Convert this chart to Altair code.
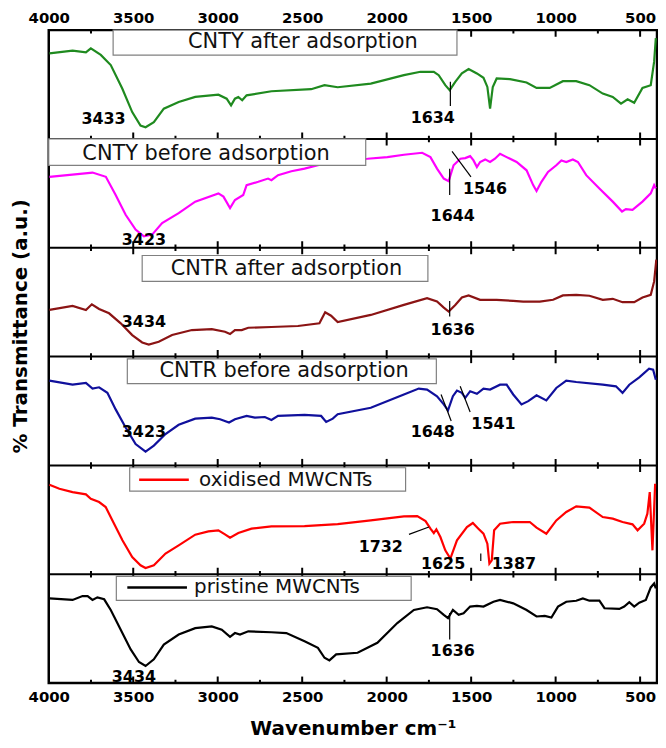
import altair as alt
import pandas as pd

# ---------------- data ----------------
series_names = ["CNTY after adsorption", "CNTY before adsorption", "CNTR after adsorption",
                "CNTR before adsorption", "oxidised MWCNTs", "pristine MWCNTs"]
series_colors = ["#1f8a1f", "#ff00ff", "#8b1414", "#10109c", "#ff0000", "#000000"]

wn_1 = [3996, 3859, 3780, 3751, 3692, 3633, 3565, 3506, 3457, 3427, 3378, 3319, 3231, 3133, 2996,
        2947, 2921, 2898, 2878, 2855, 2829, 2682, 2447, 2368, 2290, 2094, 1898, 1800, 1721, 1692,
        1653, 1627, 1594, 1555, 1515, 1466, 1427, 1404, 1388, 1372, 1349, 1270, 1172, 1113, 1035,
        957, 878, 800, 721, 662, 613, 574, 535, 486, 437, 417, 407]
t_1 = [78.7, 81.2, 79.6, 83.3, 77.2, 67.9, 46.3, 24.7, 12.3, 10.8, 15.4, 27.8, 34.0, 38.6, 40.7,
       37.0, 30.9, 37.0, 38.6, 35.5, 40.1, 43.8, 45.7, 49.4, 47.5, 50.9, 58.6, 61.7, 61.7, 58.6,
       49.4, 44.8, 52.5, 60.2, 64.2, 60.2, 56.2, 47.8, 27.8, 47.8, 55.6, 54.9, 51.9, 46.9, 46.9,
       53.1, 53.1, 49.4, 41.7, 38.6, 32.4, 36.4, 33.3, 46.9, 49.4, 71.0, 92.6]

wn_2 = [3996, 3741, 3662, 3604, 3545, 3486, 3437, 3388, 3329, 3231, 3133, 2996, 2966, 2927, 2898,
        2849, 2829, 2760, 2702, 2682, 2643, 2564, 2486, 2407, 2290, 2114, 1996, 1898, 1790, 1741,
        1702, 1662, 1633, 1604, 1564, 1535, 1506, 1486, 1466, 1447, 1417, 1388, 1359, 1329, 1290,
        1231, 1172, 1133, 1113, 1084, 1045, 996, 966, 937, 898, 868, 819, 741, 662, 607, 584, 545,
        486, 437, 417, 407]
t_2 = [65.2, 69.1, 65.2, 48.5, 30.3, 16.7, 10.6, 12.1, 22.7, 31.8, 42.4, 50.0, 47.0, 36.4, 43.9,
       48.5, 57.6, 60.6, 63.6, 62.1, 66.7, 70.3, 72.7, 75.8, 80.3, 81.8, 83.3, 85.5, 87.3, 83.3,
       72.7, 63.6, 61.2, 75.8, 81.8, 82.4, 84.2, 80.3, 74.2, 78.8, 81.2, 78.8, 81.8, 86.4, 83.3,
       78.8, 71.2, 57.6, 52.1, 60.6, 69.7, 75.8, 80.3, 78.8, 81.2, 78.8, 66.7, 54.5, 42.4, 33.3,
       35.5, 34.8, 42.4, 50.0, 57.6, 54.5]

wn_3 = [3996, 3859, 3780, 3745, 3702, 3643, 3574, 3506, 3447, 3408, 3349, 3270, 3153, 3035, 2957,
        2927, 2898, 2858, 2819, 2682, 2525, 2398, 2364, 2329, 2290, 2094, 1898, 1761, 1702, 1662,
        1633, 1594, 1555, 1515, 1447, 1349, 1251, 1192, 1094, 1015, 957, 878, 800, 721, 662, 604,
        535, 486, 437, 417, 404]
t_3 = [42.9, 46.6, 42.9, 48.1, 43.8, 39.8, 30.6, 19.8, 13.0, 11.1, 13.6, 19.8, 24.4, 25.3, 22.8,
       20.7, 24.4, 24.4, 26.5, 27.2, 28.1, 30.6, 40.7, 37.6, 31.8, 38.3, 47.5, 53.7, 50.6, 45.0,
       41.4, 47.5, 54.3, 56.2, 52.2, 52.2, 51.2, 50.6, 50.6, 52.2, 56.2, 56.8, 55.9, 52.2, 53.1,
       50.0, 50.0, 54.3, 56.8, 69.1, 89.2]

wn_4 = [3996, 3859, 3780, 3741, 3702, 3653, 3604, 3545, 3486, 3427, 3378, 3309, 3231, 3133, 3035,
        2986, 2933, 2898, 2829, 2780, 2721, 2682, 2643, 2486, 2388, 2358, 2319, 2290, 2094, 1898,
        1810, 1761, 1702, 1662, 1637, 1608, 1584, 1555, 1535, 1506, 1466, 1427, 1388, 1329, 1290,
        1251, 1202, 1162, 1113, 1055, 996, 937, 878, 721, 643, 604, 564, 505, 447, 423, 407]
t_4 = [77.9, 74.2, 75.8, 70.6, 71.8, 66.7, 51.5, 34.8, 19.7, 12.7, 18.2, 28.8, 37.3, 43.0, 43.9,
       42.4, 39.4, 42.4, 45.5, 43.9, 44.5, 41.8, 45.5, 46.4, 45.5, 40.0, 43.0, 47.0, 53.0, 65.2,
       70.6, 69.7, 63.6, 56.1, 50.6, 63.6, 68.8, 66.7, 62.1, 68.2, 65.8, 70.6, 69.7, 74.2, 74.2,
       65.2, 56.1, 59.1, 64.5, 59.7, 71.2, 77.9, 76.7, 74.2, 72.7, 66.7, 74.2, 80.9, 88.8, 87.9, 78.8]

wn_5 = [3996, 3937, 3859, 3780, 3751, 3702, 3663, 3623, 3564, 3506, 3457, 3427, 3378, 3309, 3231,
        3133, 3055, 2996, 2957, 2927, 2878, 2800, 2682, 2486, 2290, 2094, 1898, 1819, 1770, 1741,
        1721, 1706, 1682, 1653, 1623, 1584, 1525, 1490, 1457, 1427, 1404, 1392, 1378, 1364, 1329,
        1251, 1153, 1113, 1055, 996, 937, 878, 800, 721, 662, 604, 545, 515, 476, 457, 443, 427, 411]
t_5 = [82.3, 78.6, 75.5, 73.4, 69.4, 66.4, 61.8, 49.5, 31.2, 15.9, 8.3, 5.8, 8.3, 19.0, 26.6,
       36.4, 39.4, 40.4, 36.7, 33.6, 37.9, 41.9, 44.0, 44.3, 46.0, 49.5, 53.2, 53.5, 48.9, 41.9,
       37.9, 41.3, 34.2, 22.0, 14.4, 31.2, 43.4, 47.1, 41.9, 37.3, 28.1, 9.8, 12.8, 40.4, 46.5,
       48.0, 48.0, 42.8, 37.3, 49.5, 57.2, 62.4, 61.2, 52.6, 51.1, 48.0, 45.9, 40.4, 46.5, 55.7,
       75.5, 22.0, 83.2]

wn_6 = [3996, 3859, 3800, 3770, 3741, 3712, 3672, 3633, 3574, 3515, 3466, 3427, 3378, 3319, 3231,
        3133, 3035, 2976, 2927, 2898, 2868, 2819, 2682, 2594, 2486, 2407, 2368, 2339, 2299, 2172,
        2055, 1937, 1839, 1761, 1702, 1662, 1637, 1608, 1574, 1545, 1506, 1466, 1427, 1368, 1329,
        1251, 1172, 1113, 1064, 1025, 986, 937, 878, 839, 800, 741, 711, 623, 594, 564, 535, 505,
        466, 437, 417, 407]
t_6 = [77.8, 76.4, 80.0, 80.0, 76.4, 78.8, 77.0, 67.2, 49.1, 30.9, 19.4, 15.7, 21.8, 35.4, 44.6,
       50.5, 52.1, 49.1, 42.5, 46.0, 44.6, 47.6, 46.7, 46.0, 38.5, 32.4, 23.3, 20.9, 26.4, 27.9,
       37.0, 55.2, 67.2, 69.7, 67.9, 62.7, 59.7, 67.2, 62.7, 64.2, 70.3, 70.9, 70.3, 74.8, 76.4,
       73.3, 67.2, 61.2, 61.8, 60.3, 70.3, 74.8, 75.7, 77.8, 75.7, 75.7, 68.8, 68.2, 70.3, 74.3,
       70.3, 73.9, 76.4, 87.9, 91.5, 87.0]

wn_all = [wn_1, wn_2, wn_3, wn_4, wn_5, wn_6]
t_all = [t_1, t_2, t_3, t_4, t_5, t_6]

# axis ticks and titles
major_ticks = [4000, 3500, 3000, 2500, 2000, 1500, 1000, 500]
minor_ticks = [3750, 3250, 2750, 2250, 1750, 1250, 750]
x_title = "Wavenumber cm⁻¹"
y_title = "% Transmittance (a.u.)"

# label boxes (wavenumber extent and height inside each panel)
box_wn_left = [3619, 4000, 3447, 3535, 3521, 3600]
box_wn_right = [1584, 2124, 1756, 1706, 1888, 1855]
box_top = [100, 100, 92.9, 97.9, 97.9, 98.1]
box_bottom = [77.1, 75.7, 69.2, 75.2, 76.4, 76.1]
box_text_wn = [2496, 3069, 2593, 2607, 3110, 3140]
box_text_val = [88.9, 86.4, 80.8, 86.4, 86.9, 87.9]
swatch_wn_left = [3465, 3535]
swatch_wn_right = [3171, 3182]

# peak annotations
peak_panel = [0, 0, 1, 1, 1, 2, 2, 3, 3, 3, 4, 4, 4, 5, 5]
peak_label = ["3433", "1634", "3423", "1546", "1644", "3434", "1636", "3423", "1648", "1541",
              "1732", "1625", "1387", "3434", "1636"]
peak_text_wn = [3676, 1727, 3437, 1418, 1609, 3437, 1609, 3437, 1727, 1368, 2035, 1666, 1247, 3496, 1609]
peak_text_val = [18.5, 19.2, 7.0, 53.9, 29.4, 32.1, 24.4, 30.3, 30.3, 38.5, 25.0, 9.8, 9.8, 5.5, 29.4]

# pointer lines
ptr_panel = [0, 1, 1, 2, 3, 3, 4, 4, 5]
ptr_wn1 = [1623, 1627, 1613, 1627, 1678, 1565, 1868, 1443, 1627]
ptr_v1 = [52.5, 72.7, 88.5, 51.2, 65.2, 72.7, 36.7, 19.0, 64.3]
ptr_wn2 = [1623, 1627, 1501, 1627, 1618, 1506, 1750, 1443, 1627]
ptr_v2 = [30.3, 48.5, 65.2, 36.8, 40.9, 49.1, 43.4, 12.2, 40.0]

# ---------------- build tables ----------------
BAND = 100
NP = len(series_names)


def base(i):
    return (NP - 1 - i) * BAND


rows = []
for i, (wn, t) in enumerate(zip(wn_all, t_all)):
    for w, v in zip(wn, t):
        rows.append({"series": series_names[i], "wn": w, "y": base(i) + v})
spec_df = pd.DataFrame(rows)

boundaries = [k * BAND for k in range(NP + 1)]
tick_rows = []
for b in boundaries:
    for w in major_ticks:
        tick_rows.append({"wn": w, "y": b - 6, "y2": b + 6})
    for w in minor_ticks:
        tick_rows.append({"wn": w, "y": b - 3, "y2": b + 3})
tick_df = pd.DataFrame(tick_rows)
inner_df = pd.DataFrame({"y": boundaries[1:-1]})

box_df = pd.DataFrame({
    "x": box_wn_left, "x2": box_wn_right,
    "y": [base(i) + v for i, v in enumerate(box_bottom)],
    "y2": [base(i) + v for i, v in enumerate(box_top)],
})
text_df = pd.DataFrame({
    "label": series_names, "wn": box_text_wn,
    "y": [base(i) + v for i, v in enumerate(box_text_val)],
    "kind": ["c", "c", "c", "c", "l", "l"],
})
sw_df = pd.DataFrame({
    "x": swatch_wn_left, "x2": swatch_wn_right,
    "y": [base(i + 4) + box_text_val[i + 4] for i in range(2)],
    "series": series_names[4:],
})
peak_df = pd.DataFrame({
    "label": peak_label, "wn": peak_text_wn,
    "y": [base(p) + v for p, v in zip(peak_panel, peak_text_val)],
})
ptr_df = pd.DataFrame({
    "x": ptr_wn1, "x2": ptr_wn2,
    "y": [base(p) + v for p, v in zip(ptr_panel, ptr_v1)],
    "y2": [base(p) + v for p, v in zip(ptr_panel, ptr_v2)],
})

# ---------------- chart ----------------
FONT = "DejaVu Sans"
xscale = alt.Scale(domain=[400, 4000], reverse=True, nice=False, zero=False)
yscale = alt.Scale(domain=[0, NP * BAND], nice=False, zero=False)
cscale = alt.Scale(domain=series_names, range=series_colors)

axis_label_style = dict(labelFont=FONT, labelFontWeight="bold", labelFontSize=15,
                        labelColor="black", ticks=False, domain=False, grid=False,
                        values=major_ticks, labelFlush=False, format="d")

lines = alt.Chart(spec_df).mark_line(strokeWidth=2.2, clip=True).encode(
    x=alt.X("wn:Q", scale=xscale,
            axis=alt.Axis(orient="bottom", labelPadding=7, title=x_title,
                          titleFont=FONT, titleFontWeight="bold", titleFontSize=20,
                          titleColor="black", titlePadding=14, **axis_label_style)),
    y=alt.Y("y:Q", scale=yscale, axis=None),
    color=alt.Color("series:N", scale=cscale, legend=None),
    detail="series:N",
)

ticks = alt.Chart(tick_df).mark_rule(color="black", strokeWidth=2, clip=True).encode(
    x=alt.X("wn:Q", scale=xscale,
            axis=alt.Axis(orient="top", labelPadding=5, title=None, **axis_label_style)),
    y=alt.Y("y:Q", scale=yscale, axis=None),
    y2="y2:Q",
)

inner = alt.Chart(inner_df).mark_rule(color="black", strokeWidth=2).encode(
    y=alt.Y("y:Q", scale=yscale, axis=None),
)

ytitle = alt.Chart(pd.DataFrame({"t": [y_title]})).mark_text(
    font=FONT, fontWeight="bold", fontSize=20, angle=270, color="black",
    align="center", baseline="middle").encode(
    x=alt.value(-28), y=alt.value(298), text="t:N",
)

boxes = alt.Chart(box_df).mark_rect(fill="white", stroke="#808080", strokeWidth=1.2).encode(
    x=alt.X("x:Q", scale=xscale, axis=None), x2="x2:Q",
    y=alt.Y("y:Q", scale=yscale, axis=None), y2="y2:Q",
)

box_text_c = alt.Chart(text_df[text_df["kind"] == "c"]).mark_text(
    font=FONT, fontSize=21, color="#111111", align="center", baseline="middle").encode(
    x=alt.X("wn:Q", scale=xscale, axis=None),
    y=alt.Y("y:Q", scale=yscale, axis=None),
    text="label:N",
)
box_text_l = alt.Chart(text_df[text_df["kind"] == "l"]).mark_text(
    font=FONT, fontSize=20, color="#111111", align="left", baseline="middle").encode(
    x=alt.X("wn:Q", scale=xscale, axis=None),
    y=alt.Y("y:Q", scale=yscale, axis=None),
    text="label:N",
)

swatches = alt.Chart(sw_df).mark_rule(strokeWidth=2.5).encode(
    x=alt.X("x:Q", scale=xscale, axis=None), x2="x2:Q",
    y=alt.Y("y:Q", scale=yscale, axis=None),
    color=alt.Color("series:N", scale=cscale, legend=None),
)

pointers = alt.Chart(ptr_df).mark_rule(color="black", strokeWidth=1.2).encode(
    x=alt.X("x:Q", scale=xscale, axis=None), x2="x2:Q",
    y=alt.Y("y:Q", scale=yscale, axis=None), y2="y2:Q",
)

peaks = alt.Chart(peak_df).mark_text(
    font=FONT, fontWeight="bold", fontSize=16, color="black", align="center",
    baseline="middle").encode(
    x=alt.X("wn:Q", scale=xscale, axis=None),
    y=alt.Y("y:Q", scale=yscale, axis=None),
    text="label:N",
)

chart = alt.layer(
    lines, ticks, inner, ytitle, boxes, box_text_c, box_text_l, swatches, pointers, peaks
).resolve_axis(x="independent").properties(
    width=612, height=657, padding={"left": 3, "top": 0, "right": 0, "bottom": 0},
).configure_view(stroke="black", strokeWidth=2.5)

chart.save("out.html", embed_options={"renderer": "svg", "actions": False})
